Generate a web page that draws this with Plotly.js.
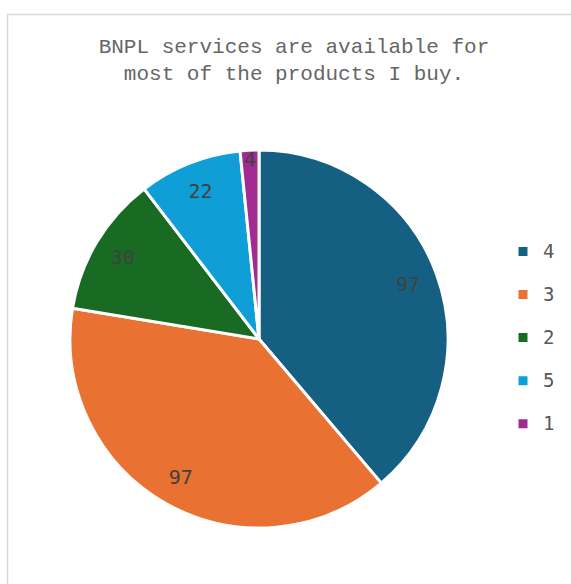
<!DOCTYPE html>
<html>
<head>
<meta charset="utf-8">
<script src="https://cdn.plot.ly/plotly-3.0.1.min.js"></script>
<style>html,body{margin:0;padding:0;background:#fff;}#chart{width:571px;height:584px;}</style>
</head>
<body>
<div id="chart"></div>
<script>
var categories = ['4', '3', '2', '5', '1'];
var counts = [97, 97, 30, 22, 4];
var sliceColors = ['#156082', '#E97132', '#196B24', '#0F9ED5', '#A02B93'];
var titleLines = ['BNPL services are available for', 'most of the products I buy.'];

var legendLabels = categories.map(function (c) {
  return '<span style="font-size:19px">' + c + '</span><br>\u00a0';
});

var pieDomain = { x: [70 / 571, 448 / 571], y: [1 - 528 / 584, 1 - 150 / 584] };

var slices = {
  type: 'pie',
  labels: legendLabels,
  values: counts,
  sort: false,
  direction: 'clockwise',
  rotation: 0,
  marker: { colors: sliceColors, line: { color: '#ffffff', width: 3 } },
  textinfo: 'none',
  hoverinfo: 'value+percent',
  domain: pieDomain
};

// transparent ring carrying the data labels near the rim
var labelRing = {
  type: 'pie',
  labels: categories,
  values: counts,
  sort: false,
  direction: 'clockwise',
  rotation: 0,
  hole: 0.68,
  showlegend: false,
  marker: { colors: categories.map(function () { return 'rgba(0,0,0,0)'; }), line: { width: 0 } },
  texttemplate: '%{value}',
  textposition: 'inside',
  insidetextorientation: 'horizontal',
  textfont: { family: 'DejaVu Sans Mono', size: 20, color: '#404040' },
  hoverinfo: 'skip',
  domain: pieDomain
};

var layout = {
  width: 571,
  height: 584,
  margin: { l: 0, r: 0, t: 0, b: 0 },
  paper_bgcolor: '#ffffff',
  title: {
    text: titleLines.join('<br>'),
    font: { family: 'Liberation Mono', size: 21, color: '#666666' },
    x: 294 / 571,
    xanchor: 'center',
    xref: 'paper',
    y: 1 - 53 / 584,
    yref: 'paper',
    yanchor: 'top'
  },
  uniformtext: { minsize: 20, mode: 'show' },
  showlegend: true,
  legend: {
    x: 503 / 571,
    xanchor: 'left',
    y: 1 - 348 / 584,
    yanchor: 'middle',
    valign: 'top',
    font: { family: 'DejaVu Sans Mono', size: 15.4, color: '#595959' },
    bgcolor: 'rgba(0,0,0,0)'
  },
  shapes: [{
    type: 'rect', xref: 'paper', yref: 'paper',
    x0: 7.5 / 571, x1: 1.1, y0: -0.1, y1: 1 - 14.5 / 584,
    line: { color: '#d9d9d9', width: 1.5 }, fillcolor: 'rgba(0,0,0,0)', layer: 'below'
  }]
};

Plotly.newPlot('chart', [slices, labelRing], layout, { displayModeBar: false, staticPlot: true });
</script>
</body>
</html>
